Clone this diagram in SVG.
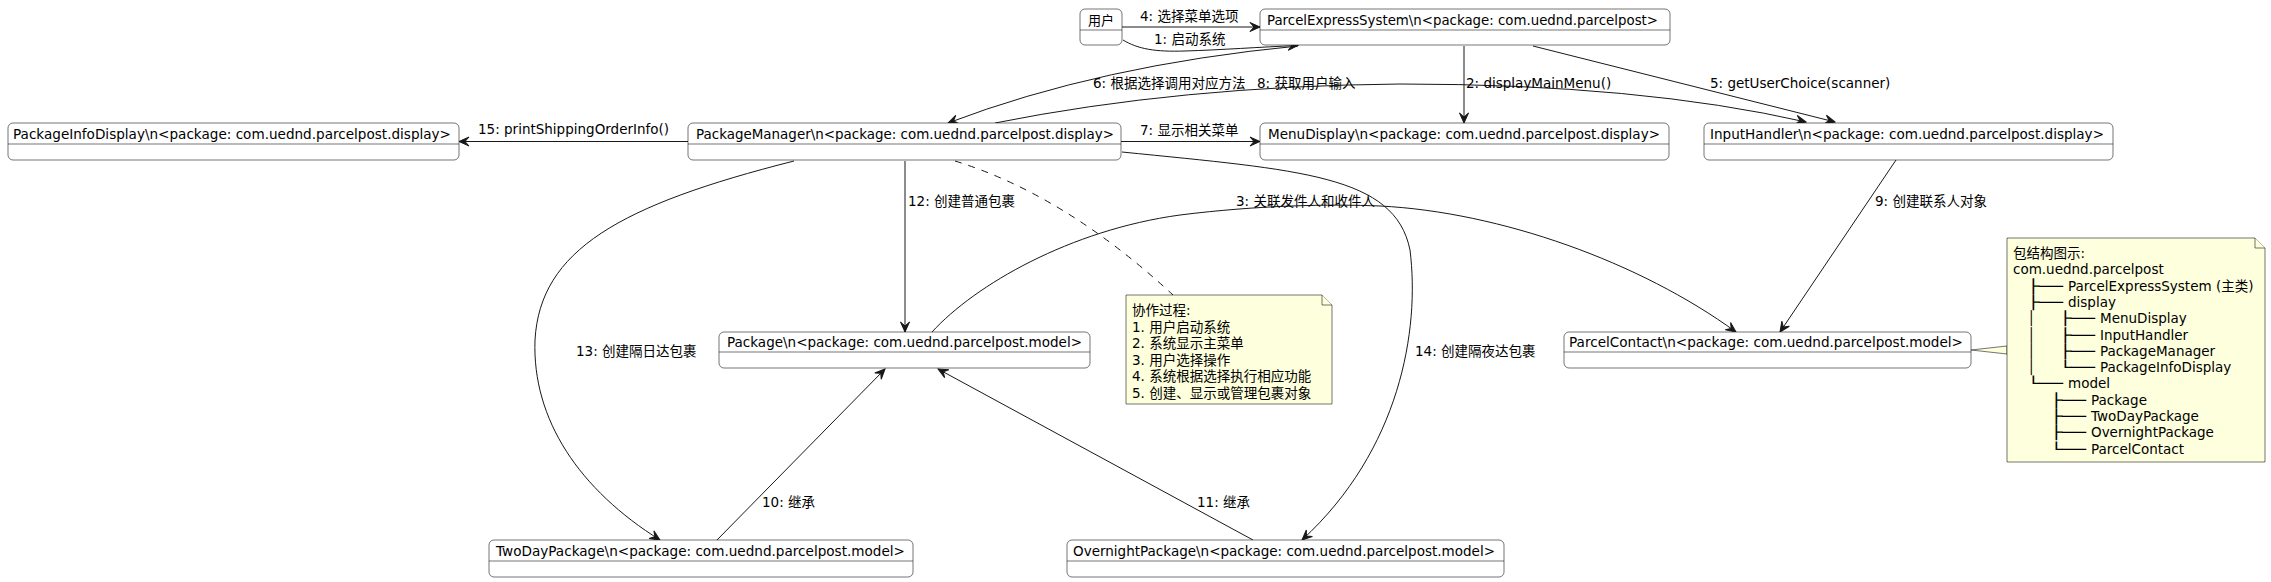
<svg xmlns="http://www.w3.org/2000/svg" width="2271" height="582" viewBox="0 0 2271 582">
<defs>
<marker id="arr" viewBox="-11 -6 12 12" refX="0" refY="0" markerWidth="12" markerHeight="12" markerUnits="userSpaceOnUse" orient="auto">
<path d="M0,0 L-10,-4.5 L-6,0 L-10,4.5 Z" fill="#181818" stroke="#181818" stroke-width="1" stroke-linejoin="miter"/>
</marker>
</defs>
<style>
.box{fill:#FFFFFF;stroke:#181818;stroke-width:0.6}
.div{stroke:#181818;stroke-width:0.6}
.note{fill:#FEFFDD;stroke:#181818;stroke-width:0.6}
.t{font-family:"DejaVu Sans","Noto Sans CJK SC",sans-serif;font-size:13.5px;fill:#000000}
.ln{fill:none;stroke:#181818;stroke-width:1}
.a{marker-end:url(#arr)}
.dash{fill:none;stroke:#181818;stroke-width:1;stroke-dasharray:7,7}
</style>
<rect width="2271" height="582" fill="#FFFFFF"/>

<g id="connectors">
<path class="ln a" d="M1122,27 L1260,27"/>
<text class="t" x="1140" y="21">4: 选择菜单选项</text>
<path class="ln a" d="M1123,40 C1138,49 1155,52 1185,51 C1220,50 1260,47 1298,45.5"/>
<text class="t" x="1154" y="44">1: 启动系统</text>
<path class="ln a" d="M1298,46 Q1100,65 948,123"/>
<text class="t" x="1093" y="88">6: 根据选择调用对应方法</text>
<path class="ln a" d="M995,123 Q1180,86 1400,84 Q1640,84 1806,122"/>
<text class="t" x="1257" y="88">8: 获取用户输入</text>
<path class="ln a" d="M1464,46 L1464,123"/>
<text class="t" x="1466" y="88">2: displayMainMenu()</text>
<path class="ln a" d="M1533,46 L1835,122"/>
<text class="t" x="1710" y="88">5: getUserChoice(scanner)</text>
<path class="ln a" d="M1121,141.5 L1260,141.5"/>
<text class="t" x="1140" y="135">7: 显示相关菜单</text>
<path class="ln a" d="M688,141.5 L459,141.5"/>
<text class="t" x="478" y="134">15: printShippingOrderInfo()</text>
<path class="ln a" d="M932,332 C975,285 1070,230 1180,215 C1260,205 1330,204 1380,206 C1500,212 1640,262 1736,332"/>
<text class="t" x="1236" y="206">3: 关联发件人和收件人</text>
<path class="ln a" d="M1896,160 L1780,332"/>
<text class="t" x="1875" y="206">9: 创建联系人对象</text>
<path class="ln a" d="M905,161 L905,332"/>
<text class="t" x="908" y="206">12: 创建普通包裹</text>
<path class="dash" d="M955,161 Q1065,195 1173,295"/>
<path class="ln a" d="M794,161 C620,205 540,250 535,340 C532,420 580,490 660,540"/>
<text class="t" x="576" y="356">13: 创建隔日达包裹</text>
<path class="ln a" d="M1122,152 C1300,170 1395,175 1410,250 C1420,330 1400,450 1302,540"/>
<text class="t" x="1415" y="356">14: 创建隔夜达包裹</text>
<path class="ln a" d="M717,540 L885,369"/>
<text class="t" x="762" y="507">10: 继承</text>
<path class="ln a" d="M1253,540 L938,369"/>
<text class="t" x="1197" y="507">11: 继承</text>
<polygon class="note" points="1971,350 2007,346 2007,354"/>
</g>

<g id="user">
<rect class="box" x="1080" y="9" width="42" height="36" rx="5"/>
<line class="div" x1="1080" y1="30" x2="1122" y2="30"/>
<text class="t" x="1088" y="25" style="font-size:13px">用户</text>
</g>

<g id="ParcelExpressSystem">
<rect class="box" x="1260" y="9" width="410" height="36" rx="5"/>
<line class="div" x1="1260" y1="30" x2="1670" y2="30"/>
<text class="t" x="1267" y="25" textLength="391" lengthAdjust="spacingAndGlyphs">ParcelExpressSystem\n&lt;package: com.uednd.parcelpost&gt;</text>
</g>

<g id="PackageInfoDisplay">
<rect class="box" x="8" y="123" width="451" height="37" rx="5"/>
<line class="div" x1="8" y1="144" x2="459" y2="144"/>
<text class="t" x="13" y="139" textLength="438" lengthAdjust="spacingAndGlyphs">PackageInfoDisplay\n&lt;package: com.uednd.parcelpost.display&gt;</text>
</g>

<g id="PackageManager">
<rect class="box" x="688" y="123" width="433" height="37" rx="5"/>
<line class="div" x1="688" y1="144" x2="1121" y2="144"/>
<text class="t" x="696" y="139" textLength="418" lengthAdjust="spacingAndGlyphs">PackageManager\n&lt;package: com.uednd.parcelpost.display&gt;</text>
</g>

<g id="MenuDisplay">
<rect class="box" x="1260" y="123" width="409" height="37" rx="5"/>
<line class="div" x1="1260" y1="144" x2="1669" y2="144"/>
<text class="t" x="1268" y="139" textLength="392" lengthAdjust="spacingAndGlyphs">MenuDisplay\n&lt;package: com.uednd.parcelpost.display&gt;</text>
</g>

<g id="InputHandler">
<rect class="box" x="1704" y="123" width="409" height="37" rx="5"/>
<line class="div" x1="1704" y1="144" x2="2113" y2="144"/>
<text class="t" x="1710" y="139" textLength="394" lengthAdjust="spacingAndGlyphs">InputHandler\n&lt;package: com.uednd.parcelpost.display&gt;</text>
</g>

<g id="Package">
<rect class="box" x="719" y="332" width="371" height="36" rx="5"/>
<line class="div" x1="719" y1="352" x2="1090" y2="352"/>
<text class="t" x="727" y="347" textLength="355" lengthAdjust="spacingAndGlyphs">Package\n&lt;package: com.uednd.parcelpost.model&gt;</text>
</g>

<g id="ParcelContact">
<rect class="box" x="1564" y="332" width="407" height="36" rx="5"/>
<line class="div" x1="1564" y1="352" x2="1971" y2="352"/>
<text class="t" x="1569" y="347" textLength="394" lengthAdjust="spacingAndGlyphs">ParcelContact\n&lt;package: com.uednd.parcelpost.model&gt;</text>
</g>

<g id="TwoDayPackage">
<rect class="box" x="489" y="540" width="424" height="37" rx="5"/>
<line class="div" x1="489" y1="561" x2="913" y2="561"/>
<text class="t" x="496" y="556" textLength="409" lengthAdjust="spacingAndGlyphs">TwoDayPackage\n&lt;package: com.uednd.parcelpost.model&gt;</text>
</g>

<g id="OvernightPackage">
<rect class="box" x="1067" y="540" width="437" height="37" rx="5"/>
<line class="div" x1="1067" y1="561" x2="1504" y2="561"/>
<text class="t" x="1073" y="556" textLength="422" lengthAdjust="spacingAndGlyphs">OvernightPackage\n&lt;package: com.uednd.parcelpost.model&gt;</text>
</g>

<g id="note-process">
<path class="note" d="M1126,295 L1322,295 L1332,305 L1332,404 L1126,404 Z"/>
<path class="note" d="M1322,295 L1322,305 L1332,305"/>
<text class="t" x="1132" y="315">协作过程:</text>
<text class="t" x="1132" y="331.5">1. 用户启动系统</text>
<text class="t" x="1132" y="348">2. 系统显示主菜单</text>
<text class="t" x="1132" y="364.5">3. 用户选择操作</text>
<text class="t" x="1132" y="381">4. 系统根据选择执行相应功能</text>
<text class="t" x="1132" y="397.5">5. 创建、显示或管理包裹对象</text>
</g>

<g id="note-structure">
<path class="note" d="M2007,238 L2255,238 L2265,248 L2265,462 L2007,462 Z"/>
<path class="note" d="M2255,238 L2255,248 L2265,248"/>
<text class="t" x="2013" y="258">包结构图示:</text>
<text class="t" x="2013" y="274.3">com.uednd.parcelpost</text>
<text class="t" x="2027" y="290.6" textLength="36" lengthAdjust="spacingAndGlyphs">├──</text>
<text class="t" x="2068" y="290.6">ParcelExpressSystem (主类)</text>
<text class="t" x="2027" y="306.9" textLength="36" lengthAdjust="spacingAndGlyphs">├──</text>
<text class="t" x="2068" y="306.9">display</text>
<text class="t" x="2027" y="323.2">│</text>
<text class="t" x="2059" y="323.2" textLength="36" lengthAdjust="spacingAndGlyphs">├──</text>
<text class="t" x="2100" y="323.2">MenuDisplay</text>
<text class="t" x="2027" y="339.5">│</text>
<text class="t" x="2059" y="339.5" textLength="36" lengthAdjust="spacingAndGlyphs">├──</text>
<text class="t" x="2100" y="339.5">InputHandler</text>
<text class="t" x="2027" y="355.8">│</text>
<text class="t" x="2059" y="355.8" textLength="36" lengthAdjust="spacingAndGlyphs">├──</text>
<text class="t" x="2100" y="355.8">PackageManager</text>
<text class="t" x="2027" y="372.1">│</text>
<text class="t" x="2059" y="372.1" textLength="36" lengthAdjust="spacingAndGlyphs">└──</text>
<text class="t" x="2100" y="372.1">PackageInfoDisplay</text>
<text class="t" x="2027" y="388.4" textLength="36" lengthAdjust="spacingAndGlyphs">└──</text>
<text class="t" x="2068" y="388.4">model</text>
<text class="t" x="2050" y="404.7" textLength="36" lengthAdjust="spacingAndGlyphs">├──</text>
<text class="t" x="2091" y="404.7">Package</text>
<text class="t" x="2050" y="421" textLength="36" lengthAdjust="spacingAndGlyphs">├──</text>
<text class="t" x="2091" y="421">TwoDayPackage</text>
<text class="t" x="2050" y="437.3" textLength="36" lengthAdjust="spacingAndGlyphs">├──</text>
<text class="t" x="2091" y="437.3">OvernightPackage</text>
<text class="t" x="2050" y="453.6" textLength="36" lengthAdjust="spacingAndGlyphs">└──</text>
<text class="t" x="2091" y="453.6">ParcelContact</text>
</g>
</svg>
